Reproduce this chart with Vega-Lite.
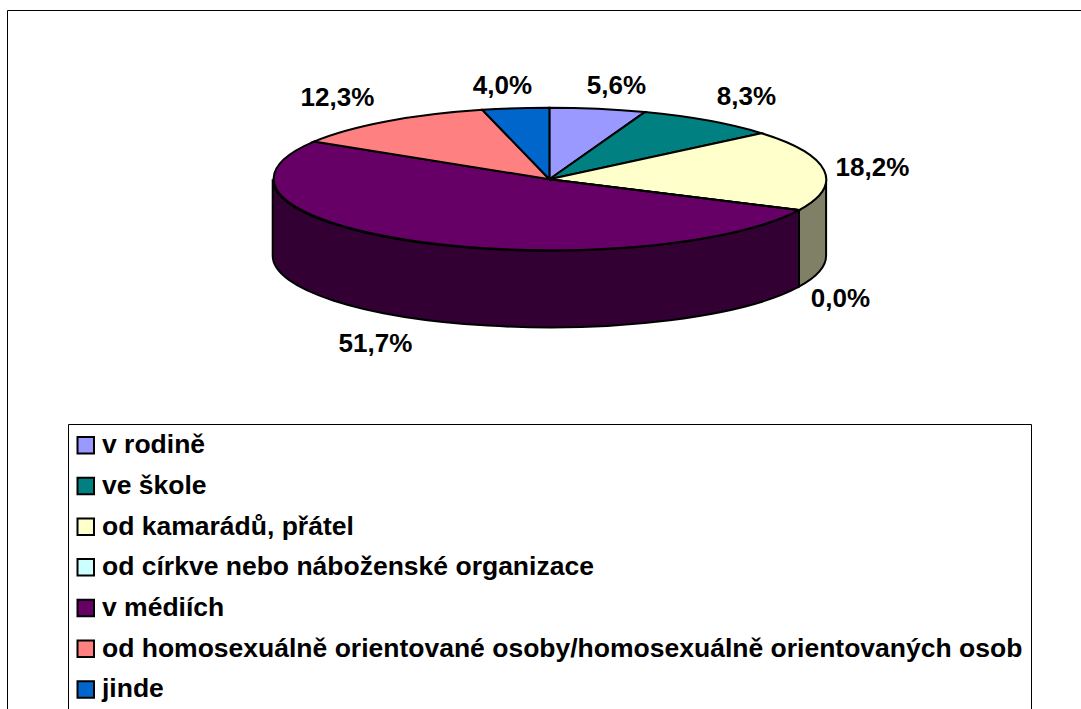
{
"$schema":"https://vega.github.io/schema/vega-lite/v6.json",
"width":1074,"height":699,
"autosize":{"type":"none"},
"padding":{"left":7,"top":10,"right":0,"bottom":0},
"background":"white",
"view":{"stroke":"black","strokeWidth":1,"fill":"white"},
"data":{"values":[
{"kategorie":"v rodině","podil":5.6,"popisek":"5,6%"},
{"kategorie":"ve škole","podil":8.3,"popisek":"8,3%"},
{"kategorie":"od kamarádů, přátel","podil":18.2,"popisek":"18,2%"},
{"kategorie":"od církve nebo náboženské organizace","podil":0.0,"popisek":"0,0%"},
{"kategorie":"v médiích","podil":51.7,"popisek":"51,7%"},
{"kategorie":"od homosexuálně orientované osoby/homosexuálně orientovaných osob","podil":12.3,"popisek":"12,3%"},
{"kategorie":"jinde","podil":4.0,"popisek":"4,0%"}
]},
"encoding":{
"x":{"datum":0,"type":"quantitative","scale":{"domain":[-542.4,531.6],"nice":false,"zero":false},"axis":null},
"y":{"datum":0,"type":"quantitative","scale":{"domain":[-529.8,169.2],"nice":false,"zero":false},"axis":null}
},
"layer":[
{"transform":[{"filter":"datum.podil===51.7"}],
"mark":{"type":"point","filled":true,"opacity":1,"size":4,"fill":"#330033","stroke":"black","strokeWidth":2,"shape":"M249.6 30.9A276.7 71.5 0 0 1 -276.7 0L-276.7 76.6A276.7 71.5 0 0 0 249.6 107.5Z"}},
{"transform":[{"filter":"datum.podil===18.2"}],
"mark":{"type":"point","filled":true,"opacity":1,"size":4,"fill":"#808066","stroke":"black","strokeWidth":2,"shape":"M276.7 0A276.7 71.5 0 0 1 249.6 30.9L249.6 107.5A276.7 71.5 0 0 0 276.7 76.6Z"}},
{"encoding":{
"color":{"field":"kategorie","type":"nominal","sort":null,
"scale":{"domain":["v rodině","ve škole","od kamarádů, přátel","od církve nebo náboženské organizace","v médiích","od homosexuálně orientované osoby/homosexuálně orientovaných osob","jinde"],
"range":["#9999FF","#008080","#FFFFCC","#CCFFFF","#660066","#FF8080","#0066CC"]},
"legend":{"orient":"none","legendX":61,"legendY":414,"title":null,"padding":8,"strokeColor":"black","fillColor":"white","symbolType":"square","symbolSize":272,"symbolStrokeWidth":2,"symbolStrokeColor":"black","labelFont":"Liberation Sans","labelFontWeight":"bold","labelFontSize":26.5,"labelColor":"black","labelOffset":3,"labelLimit":1000,"rowPadding":13.7,"symbolOffset":-3.5,
"encode":{"labels":{"dy":{"value":3}}}}}},
"layer":[
{"transform":[{"filter":"datum.podil===5.6"}],"mark":{"type":"point","filled":true,"opacity":1,"size":4,"stroke":"black","strokeWidth":2,"shape":"M0 0L0 -71.5A276.7 71.5 0 0 1 95.4 -67.1Z"}},
{"transform":[{"filter":"datum.podil===8.3"}],"mark":{"type":"point","filled":true,"opacity":1,"size":4,"stroke":"black","strokeWidth":2,"shape":"M0 0L95.4 -67.1A276.7 71.5 0 0 1 212 -46Z"}},
{"transform":[{"filter":"datum.podil===18.2"}],"mark":{"type":"point","filled":true,"opacity":1,"size":4,"stroke":"black","strokeWidth":2,"shape":"M0 0L212 -46A276.7 71.5 0 0 1 249.6 30.9Z"}},
{"transform":[{"filter":"datum.podil===51.7"}],"mark":{"type":"point","filled":true,"opacity":1,"size":4,"stroke":"black","strokeWidth":2,"shape":"M0 0L249.6 30.9A276.7 71.5 0 1 1 -235.5 -37.6Z"}},
{"transform":[{"filter":"datum.podil===12.3"}],"mark":{"type":"point","filled":true,"opacity":1,"size":4,"stroke":"black","strokeWidth":2,"shape":"M0 0L-235.5 -37.6A276.7 71.5 0 0 1 -67.1 -69.4Z"}},
{"transform":[{"filter":"datum.podil===4"}],"mark":{"type":"point","filled":true,"opacity":1,"size":4,"stroke":"black","strokeWidth":2,"shape":"M0 0L-67.1 -69.4A276.7 71.5 0 0 1 0 -71.5Z"}},
{"transform":[{"filter":"datum.podil===0"}],"mark":{"type":"point","filled":true,"opacity":1,"size":4,"stroke":"black","strokeWidth":2,"shape":"M0 0L249.6 30.9Z"}}
]},
{"transform":[{"filter":"datum.podil===5.6"}],"mark":{"type":"text","font":"Liberation Sans","fontWeight":"bold","fontSize":26,"color":"black","dx":67,"dy":-93},"encoding":{"text":{"field":"popisek"}}},
{"transform":[{"filter":"datum.podil===8.3"}],"mark":{"type":"text","font":"Liberation Sans","fontWeight":"bold","fontSize":26,"color":"black","dx":197,"dy":-82},"encoding":{"text":{"field":"popisek"}}},
{"transform":[{"filter":"datum.podil===18.2"}],"mark":{"type":"text","font":"Liberation Sans","fontWeight":"bold","fontSize":26,"color":"black","dx":323,"dy":-11},"encoding":{"text":{"field":"popisek"}}},
{"transform":[{"filter":"datum.podil===0"}],"mark":{"type":"text","font":"Liberation Sans","fontWeight":"bold","fontSize":26,"color":"black","dx":291,"dy":120},"encoding":{"text":{"field":"popisek"}}},
{"transform":[{"filter":"datum.podil===51.7"}],"mark":{"type":"text","font":"Liberation Sans","fontWeight":"bold","fontSize":26,"color":"black","dx":-174,"dy":165},"encoding":{"text":{"field":"popisek"}}},
{"transform":[{"filter":"datum.podil===12.3"}],"mark":{"type":"text","font":"Liberation Sans","fontWeight":"bold","fontSize":26,"color":"black","dx":-212,"dy":-81},"encoding":{"text":{"field":"popisek"}}},
{"transform":[{"filter":"datum.podil===4"}],"mark":{"type":"text","font":"Liberation Sans","fontWeight":"bold","fontSize":26,"color":"black","dx":-47,"dy":-93},"encoding":{"text":{"field":"popisek"}}}
]
}
